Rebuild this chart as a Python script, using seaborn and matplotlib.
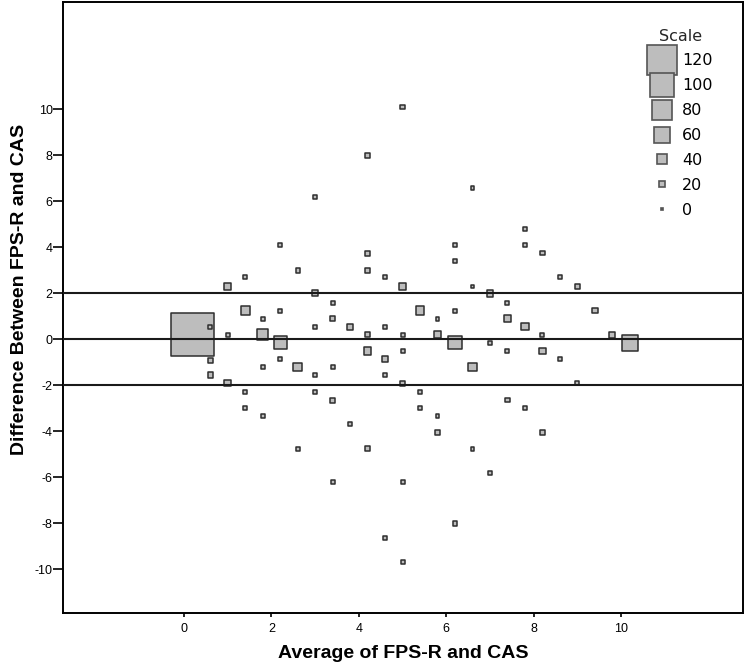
import pandas as pd
import matplotlib.pyplot as plt
import seaborn as sns
from matplotlib.lines import Line2D

# Bland-Altman points: average, difference, count
avg = [0.2, 0.6, 0.6, 0.6, 1.0, 1.0, 1.0, 1.4, 1.4, 1.4, 1.4,
       1.8, 1.8, 1.8, 1.8, 2.2, 2.2, 2.2, 2.2, 2.6, 2.6, 2.6,
       3.0, 3.0, 3.0, 3.0, 3.0, 3.4, 3.4, 3.4, 3.4, 3.4, 3.8, 3.8,
       4.2, 4.2, 4.2, 4.2, 4.2, 4.2, 4.6, 4.6, 4.6, 4.6, 4.6,
       5.0, 5.0, 5.0, 5.0, 5.0, 5.0, 5.0, 5.4, 5.4, 5.4,
       5.8, 5.8, 5.8, 5.8, 6.2, 6.2, 6.2, 6.2, 6.2,
       6.6, 6.6, 6.6, 6.6, 7.0, 7.0, 7.0, 7.4, 7.4, 7.4, 7.4,
       7.8, 7.8, 7.8, 7.8, 8.2, 8.2, 8.2, 8.2, 8.6, 8.6,
       9.0, 9.0, 9.4, 9.8, 10.2]
diff = [0.2, 0.55, -0.9, -1.55, 2.3, 0.2, -1.9, 2.7, 1.25, -2.3, -3.0,
        0.9, 0.2, -1.2, -3.35, 4.1, 1.25, -0.15, -0.85, 3.0, -1.2, -4.75,
        6.2, 2.0, 0.55, -1.55, -2.3, 1.6, 0.9, -1.2, -2.65, -6.2, 0.55, -3.7,
        8.0, 3.75, 3.0, 0.2, -0.5, -4.75, 2.7, 0.55, -0.85, -1.55, -8.65,
        10.1, 2.3, 0.2, -0.5, -1.9, -6.2, -9.7, 1.25, -2.3, -3.0,
        0.9, 0.2, -3.35, -4.05, 4.1, 3.4, 1.25, -0.15, -8.0,
        6.6, 2.3, -1.2, -4.75, 2.0, -0.15, -5.8, 1.6, 0.9, -0.5, -2.65,
        4.8, 4.1, 0.55, -3.0, 3.75, 0.2, -0.5, -4.05, 2.7, -0.85,
        2.3, -1.9, 1.25, 0.2, -0.15]
count = [180, 10, 15, 15, 25, 10, 22, 10, 30, 10, 10,
         10, 40, 10, 10, 12, 10, 50, 12, 12, 30, 10,
         12, 20, 10, 10, 12, 10, 15, 10, 15, 10, 20, 10,
         12, 15, 12, 15, 25, 12, 12, 10, 22, 10, 10,
         12, 20, 10, 10, 15, 10, 10, 30, 10, 10,
         10, 25, 10, 12, 12, 10, 10, 50, 12,
         10, 10, 30, 10, 22, 10, 10, 10, 22, 10, 12,
         12, 10, 25, 10, 12, 10, 20, 12, 12, 12,
         12, 10, 18, 18, 60]

limits = [2, 0, -2]
scale_values = [120, 100, 80, 60, 40, 20, 0]

df = pd.DataFrame({"avg": avg, "diff": diff, "n": count})

PX = 0.72  # points per pixel at 100 dpi


def side_pt(n):
    # square side grows linearly with the count
    return PX * (3 + 0.23 * n) - 1.0


sizes = {n: side_pt(n) ** 2 for n in sorted(set(count))}

sns.set_style("white")

fig = plt.figure(figsize=(7.45, 6.69), dpi=100)
ax = fig.add_axes([0.0846, 0.0837, 0.9127, 0.9133])

sns.scatterplot(data=df, x="avg", y="diff", size="n", sizes=sizes,
                marker="s", color="#bdbdbd", edgecolor="#2e2e2e",
                linewidth=1.1, legend=False, ax=ax, zorder=2)

for h in limits:
    ax.axhline(h, color="#1a1a1a", lw=1.5, zorder=3)

ax.set_xlim(-2.77, 12.79)
ax.set_ylim(-11.9, 14.67)
ax.set_xticks(range(0, 11, 2))
ax.set_yticks(range(-10, 11, 2))

tick_font = {"family": ["Liberation Sans Narrow", "Liberation Sans"], "size": 9,
             "color": "black"}
ax.set_xticklabels([str(v) for v in range(0, 11, 2)], fontdict=tick_font)
ax.set_yticklabels([str(v) for v in range(-10, 11, 2)], fontdict=tick_font)
ax.tick_params(axis="x", direction="out", length=3, width=1.2, pad=4,
               bottom=True, color="black")
ax.tick_params(axis="y", direction="out", length=7, width=1.2, pad=0.5,
               left=True, color="black")

for s in ax.spines.values():
    s.set_color("black")
    s.set_linewidth(1.4)

label_font = {"family": "Liberation Sans", "size": 14, "weight": "bold",
              "color": "black"}
ax.set_xlabel("Average of FPS-R and CAS", fontdict=label_font)
ax.set_ylabel("Difference Between FPS-R and CAS", fontdict=label_font)
ax.xaxis.set_label_coords(0.5, -0.052)
ax.yaxis.set_label_coords(-0.052, 0.529)

handles = [Line2D([], [], ls="none", marker="s", markersize=max(side_pt(v), 1.5),
                  markerfacecolor="#bdbdbd" if v > 0 else "#333333",
                  markeredgecolor="#555555", markeredgewidth=1.2)
           for v in scale_values]
leg = ax.legend(handles, [str(v) for v in scale_values], title="Scale",
                loc="upper left", bbox_to_anchor=(0.852, 0.967), frameon=False,
                prop={"family": "DejaVu Sans", "size": 11.5}, handlelength=1.6,
                handletextpad=0.5, labelspacing=0.62, borderaxespad=0)
leg.get_title().set_fontsize(11.5)
for t in leg.get_texts():
    t.set_color("black")

plt.savefig("out.png", dpi=100)
